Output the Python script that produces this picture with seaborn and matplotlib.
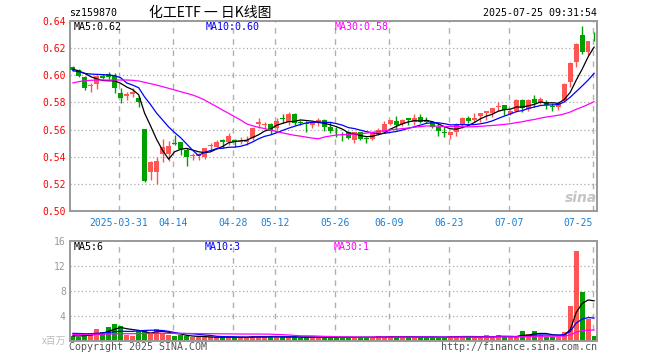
import numpy as np
import pandas as pd
import matplotlib
matplotlib.use('Agg')
import matplotlib.pyplot as plt
import seaborn as sns

# daily candles 2025-03-19 .. 2025-07-25 (88 trading days)
opens = [0.6064, 0.6039, 0.5990, 0.5921, 0.5936, 0.5997, 0.6007, 0.5997, 0.5867, 0.5850,
         0.5860, 0.5830, 0.5604, 0.5285, 0.5290, 0.5418, 0.5420, 0.5499, 0.5511, 0.5449,
         0.5405, 0.5408, 0.5400, 0.5479, 0.5474, 0.5523, 0.5506, 0.5523, 0.5506, 0.5506,
         0.5535, 0.5639, 0.5634, 0.5641, 0.5609, 0.5685, 0.5658, 0.5715, 0.5653, 0.5648,
         0.5631, 0.5646, 0.5670, 0.5616, 0.5575, 0.5570, 0.5585, 0.5523, 0.5580, 0.5535,
         0.5528, 0.5577, 0.5585, 0.5641, 0.5663, 0.5641, 0.5683, 0.5658, 0.5690, 0.5670,
         0.5658, 0.5616, 0.5580, 0.5560, 0.5585, 0.5641, 0.5683, 0.5670, 0.5700, 0.5725,
         0.5725, 0.5764, 0.5781, 0.5715, 0.5739, 0.5818, 0.5749, 0.5823, 0.5806, 0.5806,
         0.5776, 0.5764, 0.5818, 0.5953, 0.6100, 0.6297, 0.6174, 0.6299]
highs = [0.6071, 0.6046, 0.5997, 0.5941, 0.6002, 0.6007, 0.6027, 0.6014, 0.5904, 0.5879,
         0.5904, 0.5850, 0.5604, 0.5368, 0.5400, 0.5531, 0.5516, 0.5560, 0.5511, 0.5462,
         0.5430, 0.5430, 0.5467, 0.5504, 0.5523, 0.5531, 0.5572, 0.5531, 0.5548, 0.5553,
         0.5614, 0.5683, 0.5658, 0.5646, 0.5683, 0.5715, 0.5732, 0.5725, 0.5671, 0.5666,
         0.5658, 0.5683, 0.5675, 0.5658, 0.5616, 0.5585, 0.5592, 0.5585, 0.5585, 0.5548,
         0.5585, 0.5609, 0.5663, 0.5671, 0.5700, 0.5675, 0.5683, 0.5715, 0.5715, 0.5690,
         0.5666, 0.5651, 0.5616, 0.5585, 0.5646, 0.5695, 0.5700, 0.5720, 0.5720, 0.5739,
         0.5761, 0.5806, 0.5781, 0.5744, 0.5823, 0.5823, 0.5823, 0.5855, 0.5842, 0.5818,
         0.5793, 0.5806, 0.5941, 0.6100, 0.6235, 0.6363, 0.6255, 0.6321]
lows = [0.6032, 0.5987, 0.5894, 0.5874, 0.5897, 0.5973, 0.5973, 0.5872, 0.5793, 0.5818,
        0.5843, 0.5769, 0.5211, 0.5228, 0.5196, 0.5364, 0.5368, 0.5486, 0.5413, 0.5334,
        0.5376, 0.5376, 0.5383, 0.5449, 0.5462, 0.5462, 0.5486, 0.5474, 0.5491, 0.5486,
        0.5523, 0.5609, 0.5602, 0.5567, 0.5597, 0.5646, 0.5634, 0.5634, 0.5634, 0.5585,
        0.5609, 0.5626, 0.5592, 0.5572, 0.5548, 0.5518, 0.5528, 0.5504, 0.5523, 0.5499,
        0.5523, 0.5560, 0.5577, 0.5634, 0.5597, 0.5626, 0.5634, 0.5634, 0.5646, 0.5646,
        0.5609, 0.5553, 0.5548, 0.5528, 0.5553, 0.5609, 0.5651, 0.5658, 0.5658, 0.5670,
        0.5695, 0.5739, 0.5707, 0.5707, 0.5732, 0.5732, 0.5739, 0.5764, 0.5788, 0.5749,
        0.5739, 0.5744, 0.5806, 0.5916, 0.6063, 0.6157, 0.6150, 0.6255]
closes = [0.6039, 0.5997, 0.5909, 0.5928, 0.5995, 0.5978, 0.5987, 0.5909, 0.5835, 0.5860,
          0.5879, 0.5806, 0.5221, 0.5364, 0.5368, 0.5474, 0.5481, 0.5494, 0.5457, 0.5400,
          0.5413, 0.5418, 0.5462, 0.5486, 0.5506, 0.5506, 0.5553, 0.5506, 0.5516, 0.5523,
          0.5609, 0.5653, 0.5641, 0.5592, 0.5663, 0.5680, 0.5715, 0.5651, 0.5646, 0.5641,
          0.5656, 0.5670, 0.5616, 0.5592, 0.5572, 0.5565, 0.5535, 0.5580, 0.5530, 0.5528,
          0.5580, 0.5597, 0.5639, 0.5671, 0.5634, 0.5671, 0.5670, 0.5683, 0.5658, 0.5658,
          0.5621, 0.5592, 0.5575, 0.5585, 0.5641, 0.5683, 0.5663, 0.5688, 0.5720, 0.5739,
          0.5756, 0.5774, 0.5744, 0.5739, 0.5818, 0.5756, 0.5818, 0.5798, 0.5825, 0.5781,
          0.5766, 0.5798, 0.5936, 0.6093, 0.6231, 0.6174, 0.6255, 0.6294]
# volume in millions
volumes = [0.72, 0.61, 1.04, 0.88, 1.89, 1.41, 2.21, 2.64, 2.32, 0.88,
           0.72, 1.57, 1.57, 1.25, 1.84, 1.04, 0.83, 0.72, 0.83, 0.72,
           0.51, 0.51, 0.61, 0.51, 0.51, 0.51, 0.61, 0.51, 0.51, 0.51,
           0.72, 0.72, 0.51, 0.72, 0.51, 0.51, 0.61, 0.61, 0.40, 0.51,
           0.51, 0.51, 0.51, 0.51, 0.51, 0.51, 0.51, 0.51, 0.51, 0.51,
           0.51, 0.72, 0.51, 0.72, 0.51, 0.51, 0.72, 0.51, 0.51, 0.51,
           0.51, 0.51, 0.51, 0.72, 0.72, 0.72, 0.51, 0.51, 0.51, 0.88,
           0.51, 0.88, 0.51, 0.51, 0.72, 1.52, 1.04, 1.52, 0.88, 0.61,
           0.61, 0.61, 1.41, 5.52, 14.37, 7.81, 3.39, 0.72]

# moving average values before enough days are on screen
ma5_head = [0.6046, 0.6032, 0.6014, 0.5990]
ma10_head = [0.6034, 0.6027, 0.6014, 0.6009, 0.6007, 0.6005, 0.6002, 0.5997, 0.5982]
ma30_head = [0.5943, 0.5953, 0.5960, 0.5963, 0.5965, 0.5965, 0.5965, 0.5965, 0.5965, 0.5965,
             0.5963, 0.5958, 0.5948, 0.5938, 0.5928, 0.5916, 0.5904, 0.5892, 0.5879, 0.5867,
             0.5855, 0.5838, 0.5818, 0.5793, 0.5769, 0.5744, 0.5720, 0.5695, 0.5671]
vma5_head = [0.75, 0.72, 0.78, 0.85]
vma10_head = [1.15, 1.12, 1.10, 1.10, 1.15, 1.20, 1.30, 1.40, 1.50]
vma30_head = [0.98, 0.98, 0.99, 0.99, 1.00, 1.01, 1.03, 1.06, 1.09, 1.09,
              1.09, 1.10, 1.12, 1.13, 1.15, 1.15, 1.15, 1.14, 1.14, 1.13,
              1.12, 1.11, 1.10, 1.09, 1.08, 1.07, 1.06, 1.05, 1.04]

tick_idx = [8, 17, 27, 34, 44, 53, 63, 73, 87]
tick_labels = ['2025-03-31', '04-14', '04-28', '05-12', '05-26', '06-09', '06-23', '07-07', '07-25']

W, H = 660, 360
UP = '#ff5555'
DOWN = '#00a000'
MONO = 'DejaVu Sans Mono'

def moving(values, n, head):
    s = pd.Series(values).rolling(n).mean()
    s.iloc[:len(head)] = head
    return s.values

df = pd.DataFrame({'o': opens, 'h': highs, 'l': lows, 'c': closes, 'v': volumes})
df['i'] = np.arange(len(df))
df['ma5'] = moving(closes, 5, ma5_head)
df['ma10'] = moving(closes, 10, ma10_head)
df['ma30'] = moving(closes, 30, ma30_head)
df['vma5'] = moving(volumes, 5, vma5_head)
df['vma10'] = moving(volumes, 10, vma10_head)
df['vma30'] = moving(volumes, 30, vma30_head)
colors = [UP if c >= o else DOWN for o, c in zip(opens, closes)]

sns.set_theme(style='white')
plt.rcParams['font.family'] = [MONO, 'Noto Sans CJK SC']

fig = plt.figure(figsize=(W / 100, H / 100), dpi=100)
fig.patch.set_facecolor('white')

def box(x0, y0, x1, y1):
    return [x0 / W, 1 - y1 / H, (x1 - x0) / W, (y1 - y0) / H]

ax = fig.add_axes(box(70, 21, 597, 211))
axv = fig.add_axes(box(70, 240.7, 597, 340.5))

grid_x = [t - 0.25 for t in tick_idx]
for a in (ax, axv):
    a.set_xlim(-0.45, 87.46)
    for gx in grid_x:
        a.axvline(gx, color='#b0b0b0', lw=1, dashes=(4, 4), zorder=0)
    for sp in a.spines.values():
        sp.set_color('#999999')
        sp.set_linewidth(1.4)
    a.tick_params(length=0)

# price panel
ax.set_ylim(0.50, 0.64)
for gy in [0.52, 0.54, 0.56, 0.58, 0.60, 0.62]:
    ax.axhline(gy, color='#aaaaaa', lw=0.9, dashes=(1, 2), zorder=0)
body = np.maximum(np.abs(df['c'] - df['o']), 0.0006)
ax.vlines(df['i'], df['l'], df['h'], color=colors, lw=1, zorder=2)
ax.bar(df['i'], body, bottom=np.minimum(df['o'], df['c']), width=0.75, color=colors, linewidth=0, zorder=3)
sns.lineplot(data=df, x='i', y='ma5', ax=ax, color='black', lw=0.9, zorder=4)
sns.lineplot(data=df, x='i', y='ma10', ax=ax, color='#0000ff', lw=0.9, zorder=4)
sns.lineplot(data=df, x='i', y='ma30', ax=ax, color='#ff00ff', lw=0.9, zorder=4)
ax.set_yticks([0.50, 0.52, 0.54, 0.56, 0.58, 0.60, 0.62, 0.64])
ax.set_yticklabels(['%.2f' % v for v in ax.get_yticks()], color='#ff0000', fontsize=7, family=MONO)
ax.set_xticks(grid_x)
ax.set_xticklabels(tick_labels, color='#1a7fd4', fontsize=7, family=MONO)
ax.tick_params(axis='y', pad=3)
ax.tick_params(axis='x', pad=5)
ax.get_xticklabels()[-1].set_horizontalalignment('right')
ax.set_xlabel('')
ax.set_ylabel('')

# volume panel
axv.set_ylim(0, 16)
for gy in [4, 8, 12]:
    axv.axhline(gy, color='#aaaaaa', lw=0.9, dashes=(1, 2), zorder=0)
axv.bar(df['i'], df['v'], width=0.8, color=colors, linewidth=0, zorder=2)
sns.lineplot(data=df, x='i', y='vma5', ax=axv, color='black', lw=0.9, zorder=4)
sns.lineplot(data=df, x='i', y='vma10', ax=axv, color='#0000ff', lw=0.9, zorder=4)
sns.lineplot(data=df, x='i', y='vma30', ax=axv, color='#ff00ff', lw=0.9, zorder=4)
axv.set_yticks([4, 8, 12, 16])
axv.set_yticklabels(['4', '8', '12', '16'], color='#999999', fontsize=7, family=MONO)
axv.tick_params(axis='y', pad=3)
axv.set_xticks([])
axv.set_xlabel('')
axv.set_ylabel('')

def ftext(x, y, s, **kw):
    fig.text(x / W, 1 - y / H, s, va='center', **kw)

ftext(69, 13, 'sz159870', fontsize=7.2, family=MONO, color='black')
ftext(210, 13, '化工ETF 一 日K线图', fontsize=10, family=['Noto Sans CJK SC', 'DejaVu Sans'],
      color='black', ha='center')
ftext(597, 13, '2025-07-25 09:31:54', fontsize=7.2, family=MONO, color='black', ha='right')

ftext(74, 26.5, 'MA5:%.2f' % df['ma5'].iloc[-1], fontsize=7.2, family=MONO, color='black')
ftext(206, 26.5, 'MA10:%.2f' % df['ma10'].iloc[-1], fontsize=7.2, family=MONO, color='#0000ff')
ftext(335, 26.5, 'MA30:%.2f' % df['ma30'].iloc[-1], fontsize=7.2, family=MONO, color='#ff00ff')

ftext(74, 247, 'MA5:%d' % int(df['vma5'].iloc[-1]), fontsize=7.2, family=MONO, color='black')
ftext(205, 247, 'MA10:%d' % int(df['vma10'].iloc[-1]), fontsize=7.2, family=MONO, color='#0000ff')
ftext(334, 247, 'MA30:%d' % int(df['vma30'].iloc[-1]), fontsize=7.2, family=MONO, color='#ff00ff')

ftext(66, 341, 'x百万', fontsize=7, family=['Noto Sans CJK SC', 'DejaVu Sans'], color='#bbbbbb', ha='right')
ftext(69, 347, 'Copyright 2025 SINA.COM', fontsize=7.2, family=MONO, color='#555555')
ftext(597, 347, 'http://finance.sina.com.cn', fontsize=7.2, family=MONO, color='#555555', ha='right')
ftext(581, 198, 'sina', fontsize=10, family='DejaVu Sans', color='#c4c4c4',
      ha='center', style='italic', weight='bold')

fig.savefig('out.png', dpi=100, facecolor='white')
